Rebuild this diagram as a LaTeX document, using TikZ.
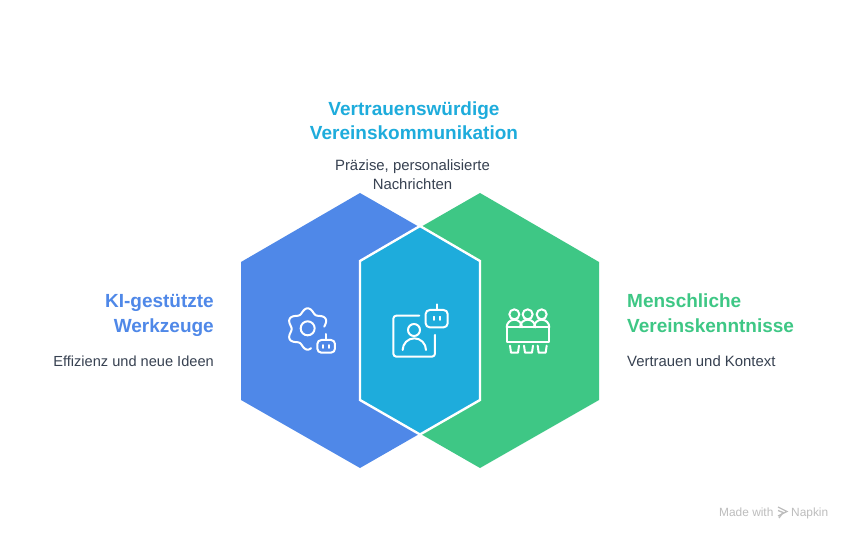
\documentclass[tikz,border=0pt]{standalone}
\usepackage{fontspec}
\setmainfont{Liberation Sans}
\definecolor{kiblue}{HTML}{4F88E8}
\definecolor{midblue}{HTML}{1EACDC}
\definecolor{mgreen}{HTML}{3EC785}
\definecolor{bodytxt}{HTML}{374151}
\definecolor{wm}{HTML}{BDBDBD}
\tikzset{
  head/.style={font=\fontsize{19}{22}\selectfont\bfseries,inner sep=0pt},
  body/.style={font=\fontsize{14.9}{18}\selectfont,text=bodytxt,inner sep=0pt},
  ico/.style={draw=white,line width=2pt,line cap=round,line join=round,fill=none},
  eye/.style={draw=white,line width=1.7pt,line cap=round},
}
\begin{document}
\begin{tikzpicture}[x=1pt,y=-1pt]
\useasboundingbox (0,0) rectangle (852,540);
\fill[white] (0,0) rectangle (852,540);
% hexagons
\fill[kiblue] (360,193) -- (421,228) -- (421,433) -- (360,468) -- (241,400) -- (241,262) -- cycle;
\fill[mgreen] (480,193) -- (599,262) -- (599,400) -- (480,468) -- (419,433) -- (419,228) -- cycle;
\filldraw[fill=midblue,draw=white,line width=2.4pt,line join=miter] (420,226) -- (480,261) -- (480,400) -- (420,434.5) -- (360,400) -- (360,261) -- cycle;
% texts
\node[head,text=midblue,anchor=base] (t1) at (414,116) {Vertrauenswürdige};
\node[head,text=midblue,anchor=base] (t2) at (414,140) {Vereinskommunikation};
\node[body,anchor=base] (b1) at (412.5,171) {Präzise, personalisierte};
\node[body,anchor=base] (b2) at (412.5,190) {Nachrichten};
\node[head,text=kiblue,anchor=base east] (l1) at (214,308) {KI-gestützte};
\node[head,text=kiblue,anchor=base east] (l2) at (214,332) {Werkzeuge};
\node[body,anchor=base east,font=\fontsize{14.6}{18}\selectfont] (l3) at (214,366) {Effizienz und neue Ideen};
\node[head,text=mgreen,anchor=base west] (r1) at (627,308) {Menschliche};
\node[head,text=mgreen,anchor=base west] (r2) at (627,332) {Vereinskenntnisse};
\node[body,anchor=base west] (r3) at (627,366) {Vertrauen und Kontext};
% gear icon
\begin{scope}[shift={(270,290)},x=0.3333pt,y=-0.3333pt]
\draw[ico] plot[domain=8:280,samples=90,smooth] ({113+(55-7*cos(6*\x))*cos(\x)},{117-(55-7*cos(6*\x))*sin(\x)});
\draw[ico] (113,115) circle (21);
\draw[ico,rounded corners=4pt] (142,150) rectangle (195,188);
\draw[ico] (168,132) -- (168,150);
\draw[eye] (160,165) -- (160,174);
\draw[eye] (177,165) -- (177,174);
\end{scope}
% person + robot icon
\begin{scope}[shift={(380,295)},x=0.3333pt,y=-0.3333pt]
\draw[ico,rounded corners=3pt] (118,62) -- (40,62) -- (40,185) -- (165,185) -- (165,120);
\draw[ico] (102,105) circle (18);
\draw[ico] (68,165) arc[start angle=180,end angle=0,radius=35,y radius=-35];
\draw[ico,rounded corners=4pt] (137,45) rectangle (203,97);
\draw[ico] (170,28) -- (170,45);
\draw[eye] (161,65) -- (161,75);
\draw[eye] (180,65) -- (180,75);
\end{scope}
% team icon
\begin{scope}[shift={(495,295)},x=0.3333pt,y=-0.3333pt]
\foreach \c in {58,98,140}{
  \draw[ico] (\c,58) circle (15);
  \draw[ico] (\c-23,97) arc[start angle=180,end angle=0,radius=23,y radius=-23];
}
\draw[ico] (35,97) rectangle (163,142);
\foreach \c in {45,87,128}{
  \draw[ico] (\c,152) -- (\c+3,173) -- (\c+24,173) -- (\c+27,152);
}
\end{scope}
% watermark
\node[font=\fontsize{11.9}{13}\selectfont,text=wm,inner sep=0pt,anchor=base west] (w1) at (719,516) {Made with};
\node[font=\fontsize{11.9}{13}\selectfont,text=wm,inner sep=0pt,anchor=base west] (w2) at (791,516) {Napkin};
\draw[wm,line width=1.3pt] (778,507) -- (787,511.5) -- (778,516);
\draw[wm,line width=1.3pt] (778,510.5) -- (783,512.5) -- (779,518);
\end{tikzpicture}
\end{document}
